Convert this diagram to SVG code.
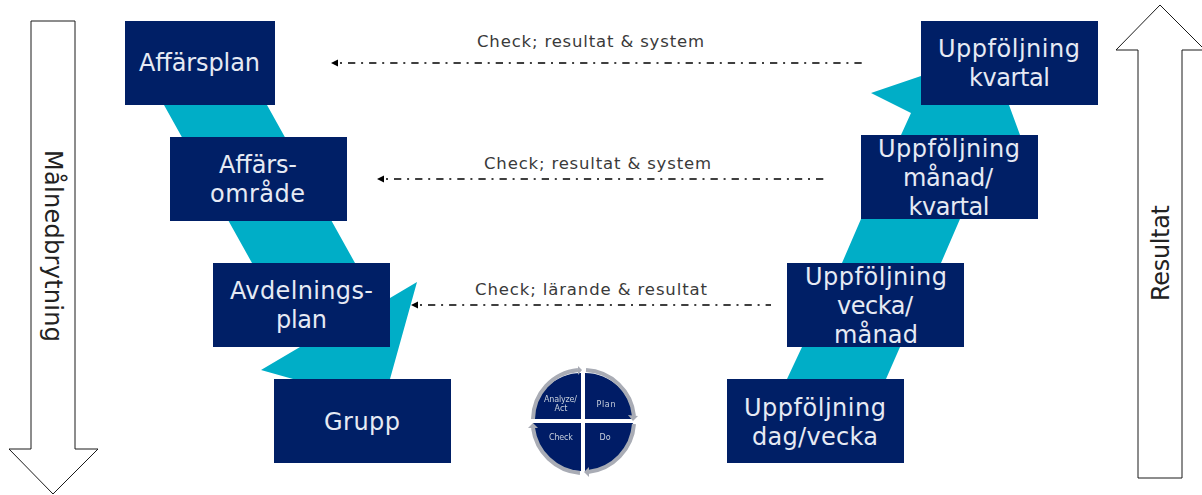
<svg xmlns="http://www.w3.org/2000/svg" width="1202" height="495" viewBox="0 0 1202 495">
<style>
.box{fill:#001f66}
.t{font-family:"DejaVu Sans",sans-serif;font-size:24px;fill:#e6eaf4;text-anchor:middle}
.f{fill:#00aec7}
.o{fill:#fff;stroke:#1a1a1a;stroke-width:1}
.c{fill:none;stroke:#000;stroke-width:1.5;stroke-dasharray:2 6 7.3 5.8}
.l{font-family:"DejaVu Sans",sans-serif;font-size:16.5px;fill:#3a3a3a;text-anchor:middle}
.s{font-family:"DejaVu Sans",sans-serif;font-size:24px;fill:#222;text-anchor:middle}
.p{font-family:"DejaVu Sans",sans-serif;font-size:8px;fill:#c9cfdd;text-anchor:middle}
.r{fill:none;stroke:#a9acb5;stroke-width:4}
.h{fill:#a9acb5}
</style>
<defs>
<marker id="a" markerWidth="10" markerHeight="8" refX="9" refY="4" orient="auto" markerUnits="userSpaceOnUse"><path d="M0 4L7 0.5V7.5Z" fill="#000"/></marker>
<filter id="soft" x="-5%" y="-5%" width="110%" height="110%"><feGaussianBlur stdDeviation="0.5"/></filter>
</defs>
<g id="flow-left"><polygon class="f" points="164,105 267,105 355,263 390,298 417,282 390,379 293,379 261,370 300,347 252,263"/></g>
<g id="flow-right"><polygon class="f" points="787,379 886,379 900,347 941,263 960,219 1020,135 1009,105 1000,60 921,76 871,93 911,113 901,135 861,219 842,263 802,347"/></g>
<g id="arrow-down"><polygon class="o" points="31,21 75,21 75,449 98,449 53,494 9,449 31,449"/><text class="s" transform="translate(45,246) rotate(90)" textLength="192">Målnedbrytning</text></g>
<g id="arrow-up"><polygon class="o" points="1160,5 1205,50 1182,50 1182,478 1138,478 1138,50 1116,50"/><text class="s" transform="translate(1169,253) rotate(-90)" textLength="96">Resultat</text></g>
<g id="connectors">
<line class="c" x1="340" y1="63" x2="862" y2="63" marker-start="url(#a)"/>
<line class="c" x1="386" y1="179" x2="828" y2="179" marker-start="url(#a)"/>
<line class="c" x1="420" y1="305" x2="771" y2="305" marker-start="url(#a)"/>
<text class="l" x="590.5" y="47" textLength="227">Check; resultat &amp; system</text>
<text class="l" x="597.5" y="169" textLength="227">Check; resultat &amp; system</text>
<text class="l" x="591" y="295" textLength="232">Check; lärande &amp; resultat</text>
</g>
<g id="n1"><rect class="box" x="125" y="21" width="150" height="84"/><text class="t" x="199.5" y="71" textLength="121">Affärsplan</text></g>
<g id="n2"><rect class="box" x="170" y="137" width="177" height="84"/><text class="t" x="258" y="173" textLength="78">Affärs-</text><text class="t" x="257.5" y="202" textLength="95">område</text></g>
<g id="n3"><rect class="box" x="213" y="263" width="177" height="84"/><text class="t" x="301.5" y="299" textLength="143">Avdelnings-</text><text class="t" x="301.5" y="328" textLength="51">plan</text></g>
<g id="n4"><rect class="box" x="274" y="379" width="177" height="84"/><text class="t" x="362" y="430" textLength="76">Grupp</text></g>
<g id="n5"><rect class="box" x="921" y="21" width="177" height="84"/><text class="t" x="1009" y="57" textLength="142">Uppföljning</text><text class="t" x="1009.5" y="86" textLength="81">kvartal</text></g>
<g id="n6"><rect class="box" x="861" y="135" width="177" height="84"/><text class="t" x="949" y="157" textLength="142">Uppföljning</text><text class="t" x="948" y="186" textLength="90">månad/</text><text class="t" x="949" y="215" textLength="81">kvartal</text></g>
<g id="n7"><rect class="box" x="787" y="263" width="177" height="84"/><text class="t" x="876" y="285" textLength="142">Uppföljning</text><text class="t" x="875" y="314" textLength="76">vecka/</text><text class="t" x="876" y="343" textLength="84">månad</text></g>
<g id="n8"><rect class="box" x="727" y="379" width="177" height="84"/><text class="t" x="815" y="416" textLength="142">Uppföljning</text><text class="t" x="815" y="445" textLength="126">dag/vecka</text></g>
<g id="pdca" filter="url(#soft)">
<path class="box" d="M581 419V373A48 48 0 0 0 533 419Z"/>
<path class="box" d="M585 419V373A48 48 0 0 1 633 419Z"/>
<path class="box" d="M581 423V471A48 48 0 0 1 533 423Z"/>
<path class="box" d="M585 423V471A48 48 0 0 0 633 423Z"/>
<path class="r" d="M533 419A50 50 0 0 1 578 370"/><polygon class="h" points="578,366 582,370 578,375"/>
<path class="r" d="M586 370A51 51 0 0 1 634 416"/><polygon class="h" points="628,415 638,416 633,421"/>
<path class="r" d="M634 424A52 52 0 0 1 588 472"/><polygon class="h" points="589,467 584,472 589,477"/>
<path class="r" d="M580 473A52 52 0 0 1 533 428"/><polygon class="h" points="528,428 533,423 538,428"/>
<text class="p" x="560.5" y="402" textLength="33">Analyze/</text><text class="p" x="561" y="411">Act</text>
<text class="p" x="606" y="407" textLength="19">Plan</text><text class="p" x="561" y="440" textLength="24">Check</text><text class="p" x="605" y="440">Do</text>
</g>
</svg>
